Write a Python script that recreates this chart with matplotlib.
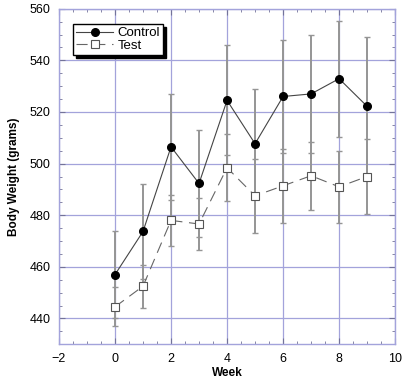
import matplotlib.pyplot as plt
from matplotlib.ticker import MultipleLocator

plt.rcParams['font.family'] = ['Liberation Sans', 'DejaVu Sans']

weeks = [0, 1, 2, 3, 4, 5, 6, 7, 8, 9]
control = [457.0, 473.7, 506.5, 492.3, 524.5, 507.7, 526.0, 527.0, 532.9, 522.2]
control_err = [17.0, 18.3, 20.5, 20.7, 21.3, 21.3, 22.0, 22.9, 22.4, 26.7]
test = [444.5, 452.5, 478.0, 476.6, 498.4, 487.5, 491.4, 495.3, 491.0, 495.0]
test_err = [7.5, 8.4, 10.0, 10.0, 13.0, 14.4, 14.3, 13.2, 14.0, 14.5]

blue = (0.64, 0.64, 0.86)

fig = plt.figure(figsize=(4.04, 3.8), dpi=100)
ax = fig.add_axes([0.146, 0.094, 0.832, 0.883])

ax.errorbar(weeks, control, yerr=control_err, fmt='none', ecolor='#959595',
            elinewidth=1.4, capsize=2.5, capthick=1, zorder=2)
ax.errorbar(weeks, test, yerr=test_err, fmt='none', ecolor='#959595',
            elinewidth=1.4, capsize=2.5, capthick=1, zorder=2)
ax.plot(weeks, control, '-', color='#444444', lw=0.8, marker='o', ms=5.5,
        mfc='black', mec='black', label='Control', zorder=4)
ax.plot(weeks, test, color='#666666', lw=0.8, dashes=(10, 6), marker='s',
        ms=5.5, mfc='white', mec='#555555', mew=0.8, label='Test', zorder=4)

ax.set_xlim(-2, 10)
ax.set_ylim(430, 560)
ax.xaxis.set_major_locator(MultipleLocator(2))
ax.xaxis.set_minor_locator(MultipleLocator(0.5))
ax.yaxis.set_major_locator(MultipleLocator(20))
ax.yaxis.set_minor_locator(MultipleLocator(5))
ax.grid(True, which='major', color=blue, lw=0.9)
ax.set_axisbelow(True)
for s in ax.spines.values():
    s.set_color(blue)
    s.set_linewidth(1.0)
ax.tick_params(which='both', direction='in', top=True, right=True,
               color=(0.45, 0.45, 0.6), labelsize=9, pad=6)
ax.tick_params(which='major', length=4)
ax.tick_params(which='minor', length=2.5)

ax.set_xlabel('Week', fontsize=8.5, fontweight='bold', labelpad=2)
ax.set_ylabel('Body Weight (grams)', fontsize=8.5, fontweight='bold', labelpad=7)

leg = ax.legend(loc='upper left', bbox_to_anchor=(0.042, 0.955), fontsize=9.5,
                fancybox=False, shadow={'color': 'black', 'alpha': 1},
                borderpad=0.25, handlelength=2.8, labelspacing=0.0,
                borderaxespad=0, handletextpad=0.3)
leg.get_frame().set_edgecolor('black')
leg.get_frame().set_linewidth(1.0)

fig.savefig('out.png', dpi=100)
